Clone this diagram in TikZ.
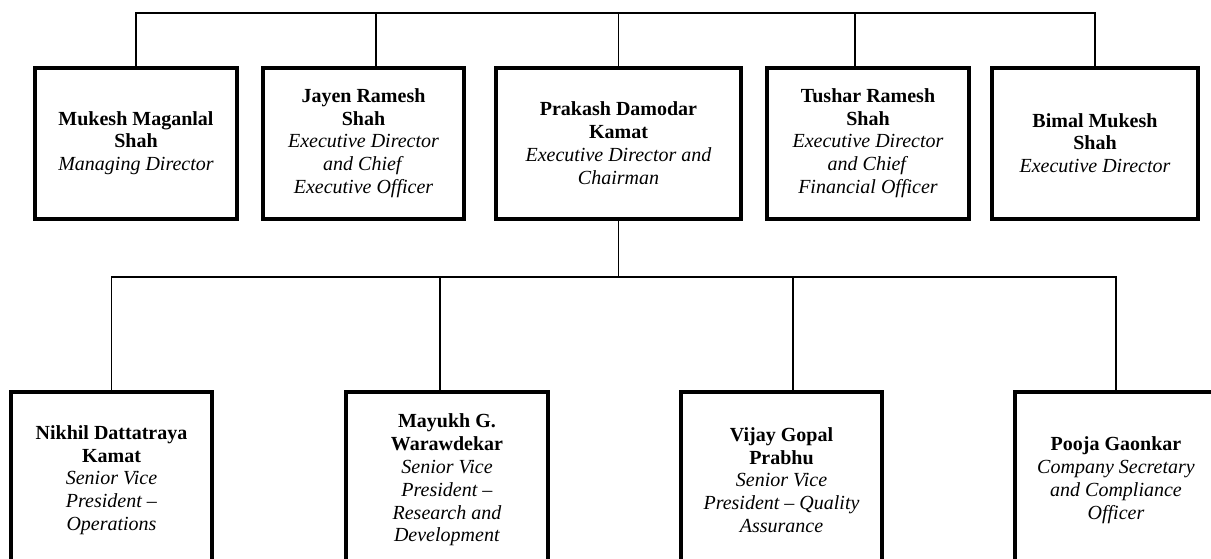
\documentclass[tikz,border=0pt]{standalone}
\usepackage{fontspec}
\setmainfont{Liberation Serif}
\usetikzlibrary{positioning}

\tikzset{
  person/.style={draw, rectangle, line width=4pt, minimum width=201.5pt,
    minimum height=151pt, inner sep=0pt, align=center,
    font=\fontsize{20}{22.8}\selectfont},
  chair/.style={person, minimum width=245.5pt},
  staff/.style={person, minimum height=176pt},
  link/.style={line width=1.5pt}
}

\begin{document}
\begin{tikzpicture}[x=1pt,y=1pt]
\useasboundingbox (0,0) rectangle (1211,-558);

% board
\node[person] (mukesh) at (136,-143)
  {\textbf{Mukesh Maganlal}\\\textbf{Shah}\\\textit{Managing Director}};
\node[person] (jayen) at (363.5,-143)
  {\textbf{Jayen Ramesh}\\\textbf{Shah}\\\textit{Executive Director}\\\textit{and Chief}\\\textit{Executive Officer}};
\node[chair] (prakash) at (618.5,-143)
  {\textbf{Prakash Damodar}\\\textbf{Kamat}\\\textit{Executive Director and}\\\textit{Chairman}};
\node[person] (tushar) at (868,-143)
  {\textbf{Tushar Ramesh}\\\textbf{Shah}\\\textit{Executive Director}\\\textit{and Chief}\\\textit{Financial Officer}};
\node[person, minimum width=205.5pt] (bimal) at (1095,-143)
  {\textbf{Bimal Mukesh}\\\textbf{Shah}\\\textit{Executive Director}};

% management
\node[staff] (nikhil) at (111.5,-480)
  {\textbf{Nikhil Dattatraya}\\\textbf{Kamat}\\\textit{Senior Vice}\\\textit{President --}\\\textit{Operations}};
\node[staff] (mayukh) at (447,-480)
  {\textbf{Mayukh G.}\\\textbf{Warawdekar}\\\textit{Senior Vice}\\\textit{President --}\\\textit{Research and}\\\textit{Development}};
\node[staff] (vijay) at (781.5,-480)
  {\textbf{Vijay Gopal}\\\textbf{Prabhu}\\\textit{Senior Vice}\\\textit{President -- Quality}\\\textit{Assurance}};
\node[staff] (pooja) at (1116,-480)
  {\textbf{Pooja Gaonkar}\\\textit{Company Secretary}\\\textit{and Compliance}\\\textit{Officer}};

\coordinate (topbus) at (0,-13);
\coordinate (lowbus) at (0,-277);

\draw[link] (mukesh.north) |- (topbus -| bimal.north) -- (bimal.north);
\draw[link] ([xshift=12.5pt]jayen.north) -- ([xshift=12.5pt]jayen.north |- topbus);
\draw[link] (prakash.north) -- (prakash.north |- topbus);
\draw[link] ([xshift=-13pt]tushar.north) -- ([xshift=-13pt]tushar.north |- topbus);

\draw[link] (prakash.south) -- (prakash.south |- lowbus);
\draw[link] (nikhil.north) |- (lowbus -| pooja.north) -- (pooja.north);
\draw[link] ([xshift=-7pt]mayukh.north) -- ([xshift=-7pt]mayukh.north |- lowbus);
\draw[link] ([xshift=11.5pt]vijay.north) -- ([xshift=11.5pt]vijay.north |- lowbus);
\end{tikzpicture}
\end{document}
